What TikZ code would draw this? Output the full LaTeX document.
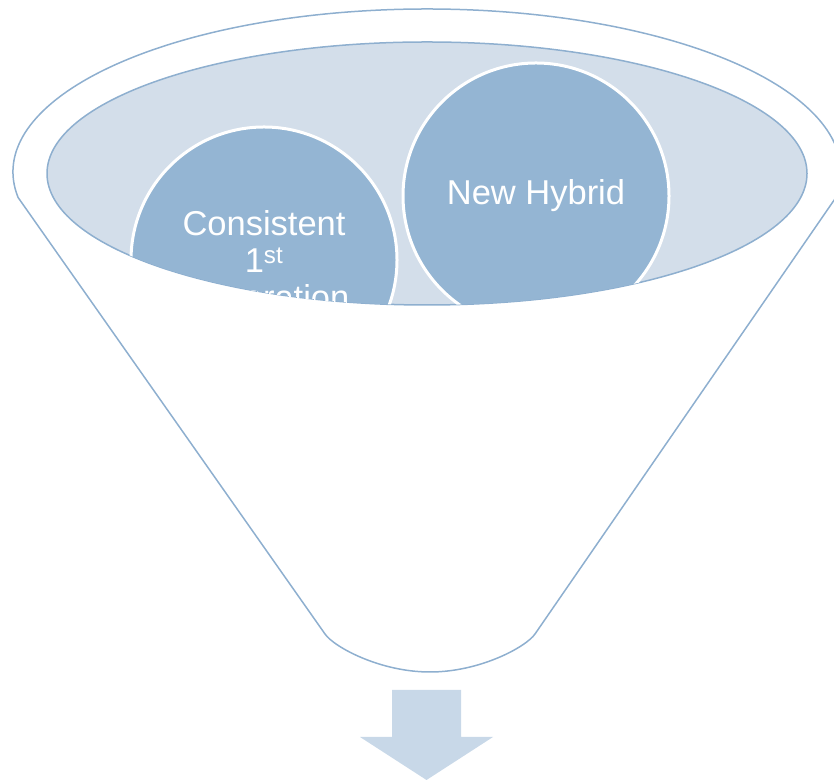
\documentclass[tikz,border=0pt]{standalone}
\usepackage{fontspec}
\setmainfont{Liberation Sans}
\usepackage{xcolor}
\usepackage{tikz}

\definecolor{funnelline}{HTML}{8EAFCF}
\definecolor{mouthfill}{HTML}{D3DEEA}
\definecolor{ballfill}{HTML}{94B5D3}
\definecolor{arrowfill}{HTML}{C8D8E8}

\begin{document}
\begin{tikzpicture}[x=1pt,y=1pt,line join=round,
  funnel/.style={draw=funnelline,line width=1.5pt},
  ball/.style={circle,minimum size=266pt,inner sep=0pt,fill=ballfill,draw=white,
    line width=3pt,text=white,align=center,font=\fontsize{34.5}{37}\selectfont}]
\useasboundingbox (0,0) rectangle (834,783);
% funnel body
\draw[funnel] (427,611) ++(189:414pt and 163pt)
  arc[start angle=189,end angle=-9,x radius=414pt,y radius=163pt]
  -- (535,149) .. controls (526,136) and (480,111) .. (430,111)
  .. controls (380,111) and (334,136) .. (325,149) -- cycle;
% mouth
\path[funnel,fill=mouthfill] (427,609.5) ellipse [x radius=380pt,y radius=131.5pt];
\begin{scope}
\clip (427,609.5) ellipse [x radius=380pt,y radius=131.5pt];
\node[ball] (gen) at (264,523) {Consistent\\1\textsuperscript{st}\\Generation};
\node[ball] (hyb) at (536,587) {New Hybrid};
\end{scope}
% output arrow
\fill[arrowfill] (392,93) -- (461,93) -- (461,46) -- (493,46) -- (426.5,3)
  -- (360,46) -- (392,46) -- cycle;
\end{tikzpicture}
\end{document}
